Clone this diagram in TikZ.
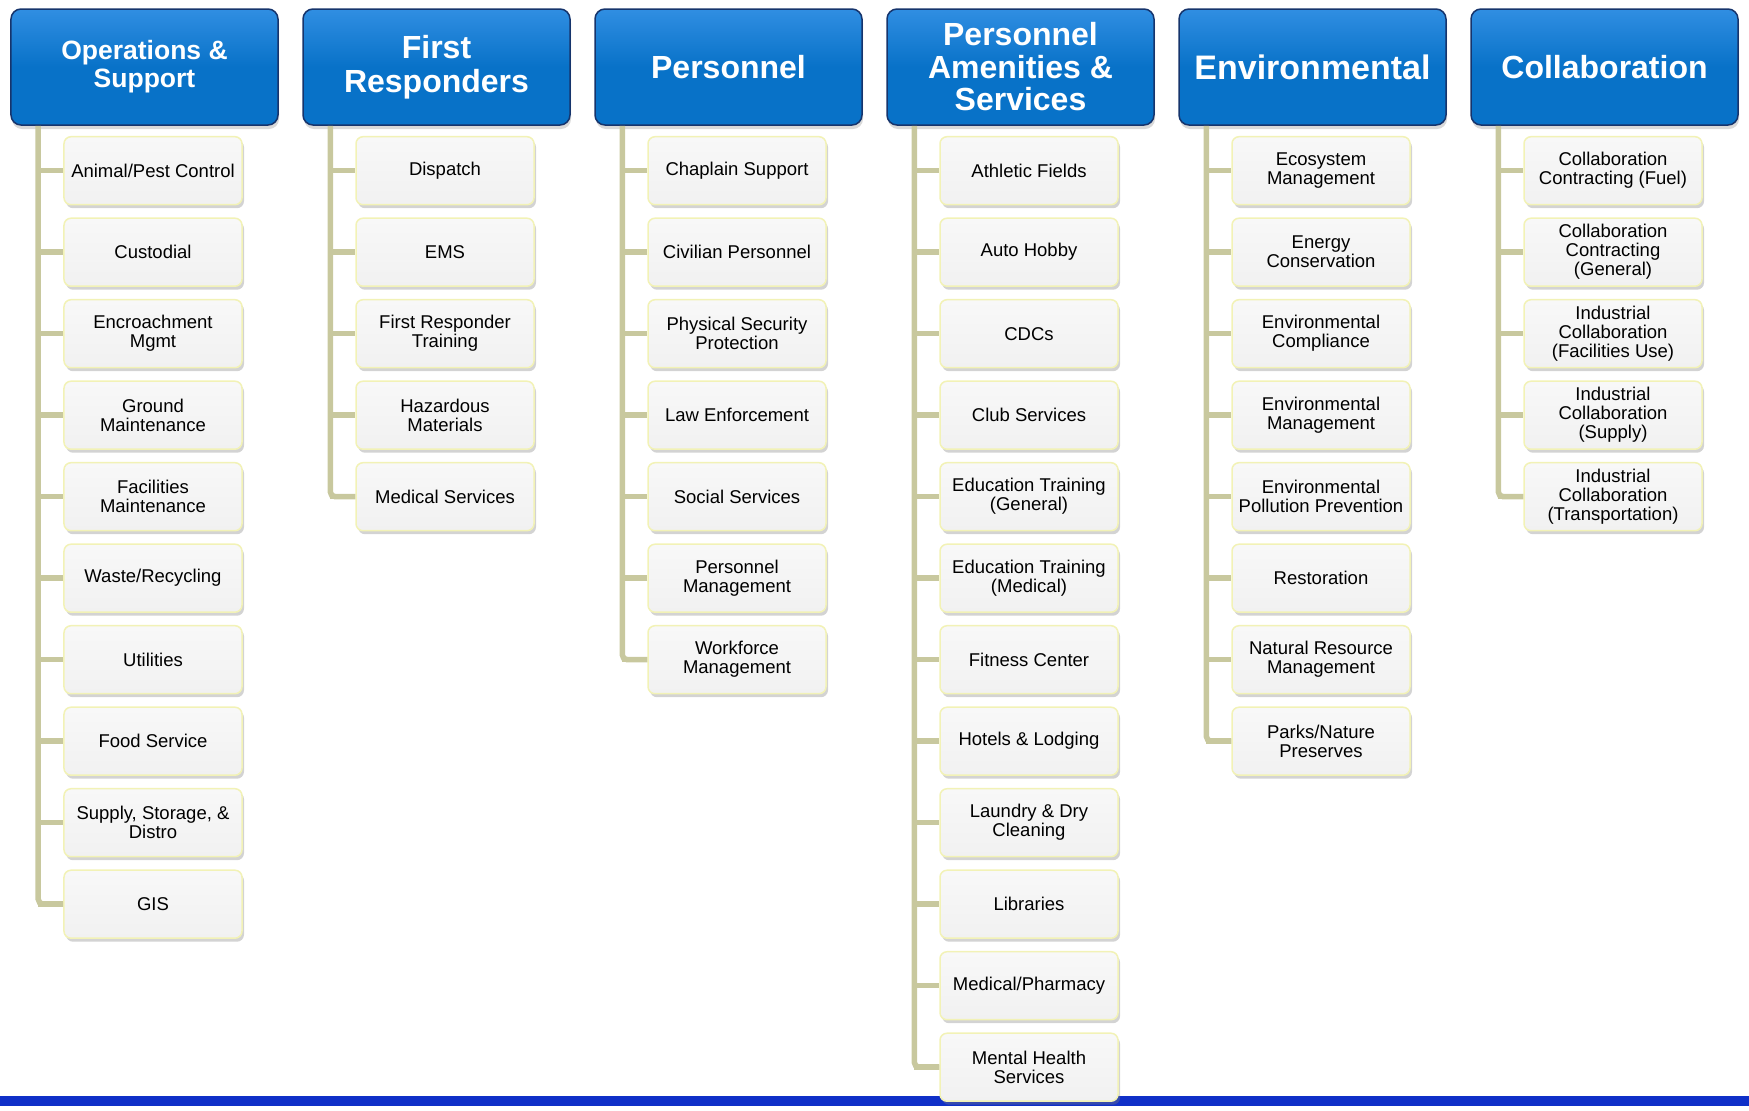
\documentclass[tikz,border=0pt]{standalone}
\usepackage{fontspec}
\setmainfont{Liberation Sans}
\usetikzlibrary{shadows}

\definecolor{hdblue}{RGB}{8,114,200}
\definecolor{hdtop}{RGB}{48,142,226}
\definecolor{hdline}{RGB}{22,52,108}
\definecolor{trunkcol}{RGB}{200,200,158}
\definecolor{itemline}{RGB}{242,242,182}
\definecolor{itemtop}{RGB}{248,248,248}
\definecolor{itemfill}{RGB}{241,241,241}
\definecolor{barblue}{RGB}{16,48,200}

\tikzset{
  header/.style={draw=hdline, line width=1.5bp, rounded corners=10bp,
    top color=hdtop, bottom color=hdblue, middle color=hdblue,
    minimum width=267bp, minimum height=116bp, inner sep=0pt,
    align=center, text=white,
    drop shadow={opacity=0.3, shadow xshift=1bp, shadow yshift=-4bp}},
  item/.style={draw=itemline, line width=1.5bp, rounded corners=7bp,
    top color=itemtop, bottom color=itemfill,
    minimum width=178bp, minimum height=68bp, inner sep=2pt,
    align=center, text=black,
    font=\fontsize{18.5bp}{19bp}\selectfont,
    drop shadow={opacity=0.35, shadow xshift=2bp, shadow yshift=-3.5bp}},
  branch/.style={draw=trunkcol, line width=5.5bp}
}

\begin{document}
\begin{tikzpicture}[x=1bp, y=-1bp]
  \useasboundingbox (0,0) rectangle (1749,1110);
  % bottom bar
  \fill[barblue] (0,1096) rectangle (1749,1106);

  \foreach \col/\n/\hdsz/\hdskip/\hdtxt/\items in {
    1/10/26.5/28/{Operations \&\\Support}/{{Animal/Pest Control},{Custodial},{Encroachment\\Mgmt},{Ground\\Maintenance},{Facilities\\Maintenance},{Waste/Recycling},{Utilities},{Food Service},{Supply, Storage, \&\\Distro},{GIS}},
    2/5/32/33.5/{First\\Responders}/{{Dispatch},{EMS},{First Responder\\Training},{Hazardous\\Materials},{Medical Services}},
    3/7/32/33/{Personnel}/{{Chaplain Support},{Civilian Personnel},{Physical Security\\Protection},{Law Enforcement},{Social Services},{Personnel\\Management},{Workforce\\Management}},
    4/12/32/32.5/{Personnel\\Amenities \&\\Services}/{{Athletic Fields},{Auto Hobby},{CDCs},{Club Services},{Education Training\\(General)},{Education Training\\(Medical)},{Fitness Center},{Hotels \& Lodging},{Laundry \& Dry\\Cleaning},{Libraries},{Medical/Pharmacy},{Mental Health\\Services}},
    5/8/34/35/{Environmental}/{{Ecosystem\\Management},{Energy\\Conservation},{Environmental\\Compliance},{Environmental\\Management},{Environmental\\Pollution Prevention},{Restoration},{Natural Resource\\Management},{Parks/Nature\\Preserves}},
    6/5/32/33/{Collaboration}/{{Collaboration\\Contracting (Fuel)},{Collaboration\\Contracting\\(General)},{Industrial\\Collaboration\\(Facilities Use)},{Industrial\\Collaboration\\(Supply)},{Industrial\\Collaboration\\(Transportation)}}%
  }{
    \node[header, font=\bfseries\fontsize{\hdsz bp}{\hdskip bp}\selectfont]
      (hd\col) at ({144.5+292*(\col-1)}, 67) {\hdtxt};
    \coordinate (t\col) at ([xshift=28bp]hd\col.south west);
    \foreach \lbl [count=\k] in \items {
      \node[item] (c\col-\k) at ({153+292*(\col-1)}, {170.7+81.5*(\k-1)}) {\lbl};
    }
    % trunk and branches
    \draw[branch, rounded corners=5bp] (t\col) |- (c\col-\n.west);
    \foreach \k in {1,...,\n} {
      \draw[branch] (t\col |- c\col-\k.west) -- (c\col-\k.west);
    }
  }
\end{tikzpicture}
\end{document}
